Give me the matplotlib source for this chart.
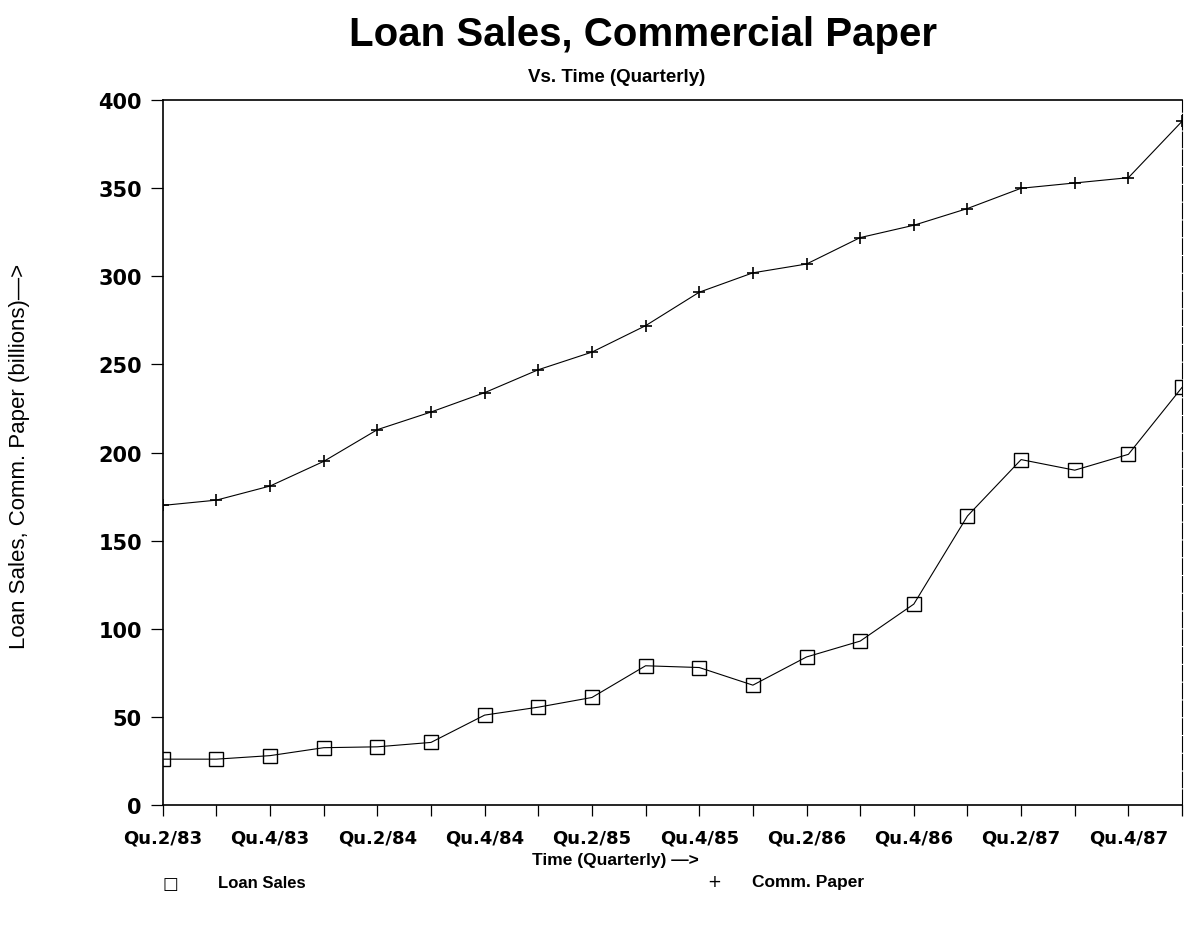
import matplotlib
matplotlib.use("Agg")
import matplotlib.pyplot as plt

quarters = ["Qu.2/83", "Qu.3/83", "Qu.4/83", "Qu.1/84", "Qu.2/84", "Qu.3/84", "Qu.4/84",
            "Qu.1/85", "Qu.2/85", "Qu.3/85", "Qu.4/85", "Qu.1/86", "Qu.2/86", "Qu.3/86",
            "Qu.4/86", "Qu.1/87", "Qu.2/87", "Qu.3/87", "Qu.4/87", "Qu.1/88"]
loan_sales = [26, 26, 28, 32.5, 33, 35.5, 51, 55.5, 61, 79, 78, 68, 84, 93,
              114, 164, 196, 190, 199, 237]
comm_paper = [170, 173, 181, 195, 213, 223, 234, 247, 257, 272, 291, 302, 307, 322,
              329, 338.5, 350, 353, 356, 388]
y_ticks = [0, 50, 100, 150, 200, 250, 300, 350, 400]

plt.rcParams['font.family'] = ['DejaVu Sans']

fig = plt.figure(figsize=(11.88, 9.28), dpi=100)
ax = fig.add_axes([0.137, 0.1315, 0.858, 0.7595])

x = list(range(len(quarters)))
ax.plot(x, loan_sales, color='black', lw=0.8, marker='s', markersize=10,
        markerfacecolor='none', markeredgecolor='black', markeredgewidth=1.0)
ax.plot(x, comm_paper, color='black', lw=0.8, marker='+', markersize=8,
        markeredgewidth=1.2)

ax.set_xlim(0, len(quarters) - 1)
ax.set_ylim(0, 400)
ax.set_yticks(y_ticks)
ax.set_yticklabels([str(v) for v in y_ticks], fontsize=15, fontweight='bold')
ax.set_xticks(x)
ax.set_xticklabels([q if i % 2 == 0 else "" for i, q in enumerate(quarters)],
                   fontsize=13, fontweight='bold')
ax.tick_params(axis='y', direction='out', length=9, width=0.9, pad=6)
ax.tick_params(axis='x', direction='out', length=8, width=0.9, pad=9)
for s in ['left', 'bottom', 'top']:
    ax.spines[s].set_linewidth(1.2)
ax.spines['right'].set_linewidth(0.8)
ax.spines['right'].set_linestyle((0, (14, 2)))

fig.text(0.541, 0.962, "Loan Sales, Commercial Paper", ha='center', va='center',
         fontsize=29, fontweight='bold', family=['Liberation Sans', 'DejaVu Sans'])
fig.text(0.519, 0.917, "Vs. Time (Quarterly)", ha='center', va='center',
         fontsize=13.5, fontweight='bold', family=['Liberation Sans', 'DejaVu Sans'])
fig.text(0.016, 0.508, "Loan Sales, Comm. Paper (billions)\u2014>", rotation=90,
         ha='center', va='center', fontsize=16,
         family=['Liberation Sans', 'DejaVu Sans'])
fig.text(0.518, 0.073, "Time (Quarterly) \u2014>", ha='center', va='center',
         fontsize=12.5, fontweight='bold', family=['Liberation Sans', 'DejaVu Sans'])

# legend row
fig.text(170 / 1188, 1 - 884 / 928, "\u25a1", ha='center', va='center', fontsize=12)
fig.text(218 / 1188, 1 - 884 / 928, "Loan Sales", ha='left', va='center',
         fontsize=12, fontweight='bold', family=['Liberation Sans', 'DejaVu Sans'])
fig.text(714 / 1188, 1 - 882 / 928, "+", ha='center', va='center', fontsize=12)
fig.text(752 / 1188, 1 - 882 / 928, "Comm. Paper", ha='left', va='center',
         fontsize=12.5, fontweight='bold', family=['Liberation Sans', 'DejaVu Sans'])

fig.savefig("out.png", dpi=100)
